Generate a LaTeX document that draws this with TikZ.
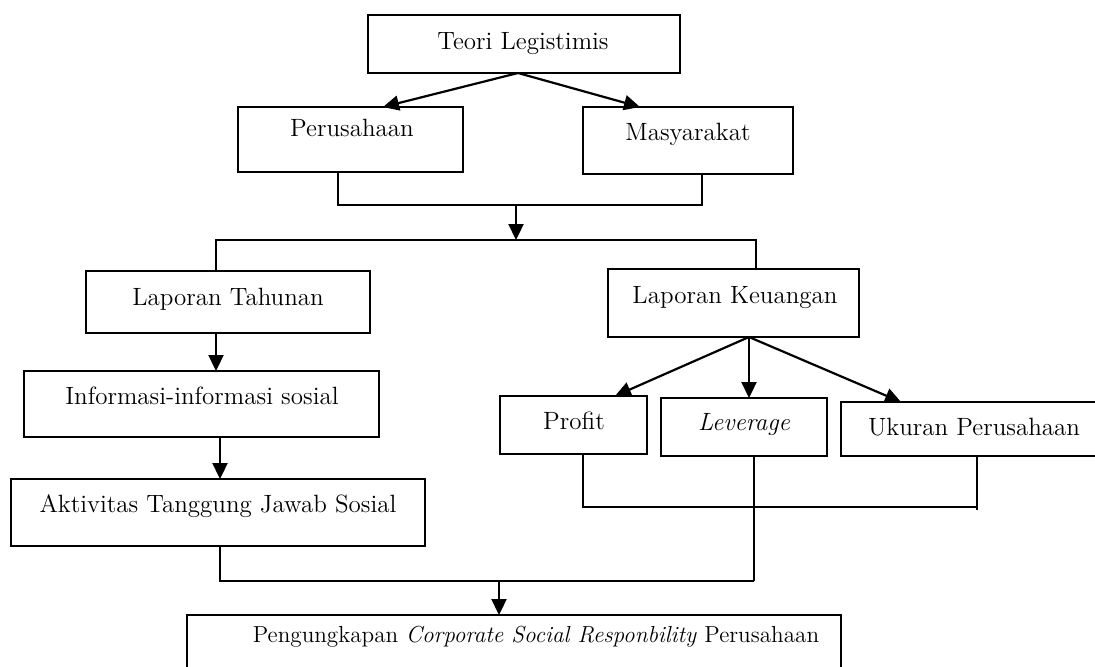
\documentclass[tikz,border=0pt]{standalone}
\usetikzlibrary{arrows.meta,fit}
\begin{document}
\begin{tikzpicture}[x=0.5pt,y=-0.5pt,
  box/.style={draw, line width=0.9pt, inner sep=0pt, outer sep=0pt},
  lbl/.style={font=\fontsize{12.5}{15}\selectfont, inner sep=0pt, anchor=base},
  conn/.style={line width=0.9pt},
  arr/.style={line width=1.1pt, -{Triangle[length=8pt,width=7.5pt]}}]
\useasboundingbox (0,0) rectangle (1095,666);
% boxes
\node[box, fit={(368,15)(680,73)}] (teori) {};
\node[box, fit={(238,107)(463,172)}] (pers) {};
\node[box, fit={(583,107)(793,174)}] (masy) {};
\node[box, fit={(86,271)(370,333)}] (lt) {};
\node[box, fit={(608,269)(859,337)}] (lk) {};
\node[box, fit={(24,371)(379,437)}] (info) {};
\node[box, fit={(11,479)(425,546)}] (akt) {};
\node[box, fit={(500,396)(647,454)}] (profit) {};
\node[box, fit={(661,398)(827,456)}] (lev) {};
\node[box, fit={(841,402)(1100,456)}] (uk) {};
\node[box, fit={(187,615)(841,690)}] (pc) {};
% labels
\node[lbl] (teoriT) at (523,49) {Teori Legistimis};
\node[lbl] (persT) at (352,136) {Perusahaan};
\node[lbl] (masyT) at (688,140) {Masyarakat};
\node[lbl] (ltT) at (228,305) {Laporan Tahunan};
\node[lbl] (lkT) at (735,303) {Laporan Keuangan};
\node[lbl] (infoT) at (202,404) {Informasi-informasi sosial};
\node[lbl] (aktT) at (218,512) {Aktivitas Tanggung Jawab Sosial};
\node[lbl] (profitT) at (574,429) {Profit};
\node[lbl] (levT) at (744,430) {\itshape Leverage};
\node[lbl] (ukT) at (974,435) {Ukuran Perusahaan};
\node[lbl, font=\fontsize{11.6}{14}\selectfont] (pcT) at (536,642) {Pengungkapan \textit{Corporate Social Responbility} Perusahaan};
% junctions
\coordinate (j1) at (516,205);
\coordinate (j2) at (516,240);
\coordinate (j3) at (754,507);
\coordinate (j4) at (754,581);
\coordinate (j5) at (499,581);
\coordinate (j6) at (977,510);
% connectors
\draw[arr] ([xshift=75pt]teori.south west) -- ([xshift=72.5pt]pers.north west);
\draw[arr] ([xshift=75pt]teori.south west) -- ([xshift=28.5pt]masy.north west);
\draw[conn] ([xshift=50pt]pers.south west) |- (j1) -| ([xshift=59.5pt]masy.south west);
\draw[arr] (j1) -- (j2);
\draw[conn] ([xshift=65pt]lt.north west) |- (j2) -| ([xshift=74pt]lk.north west);
\draw[arr] ([xshift=65pt]lt.south west) -- ([xshift=96pt]info.north west);
\draw[arr] ([xshift=98pt]info.south west) -- ([xshift=104.5pt]akt.north west);
\draw[arr] ([xshift=70.5pt]lk.south west) -- ([xshift=57.5pt]profit.north west);
\draw[arr] ([xshift=70.5pt]lk.south west) -- ([xshift=44pt]lev.north west);
\draw[arr] ([xshift=70.5pt]lk.south west) -- ([xshift=30pt]uk.north west);
\draw[conn] ([xshift=41.5pt]profit.south west) |- (j3) -| (j6);
\draw[conn] ([xshift=68pt]uk.south west) -- (j6);
\draw[conn] ([xshift=46.5pt]lev.south west) -- (j4);
\draw[conn] ([xshift=104.5pt]akt.south west) |- (j4);
\draw[arr] (j5) -- (j5 |- pc.north);
\end{tikzpicture}
\end{document}
